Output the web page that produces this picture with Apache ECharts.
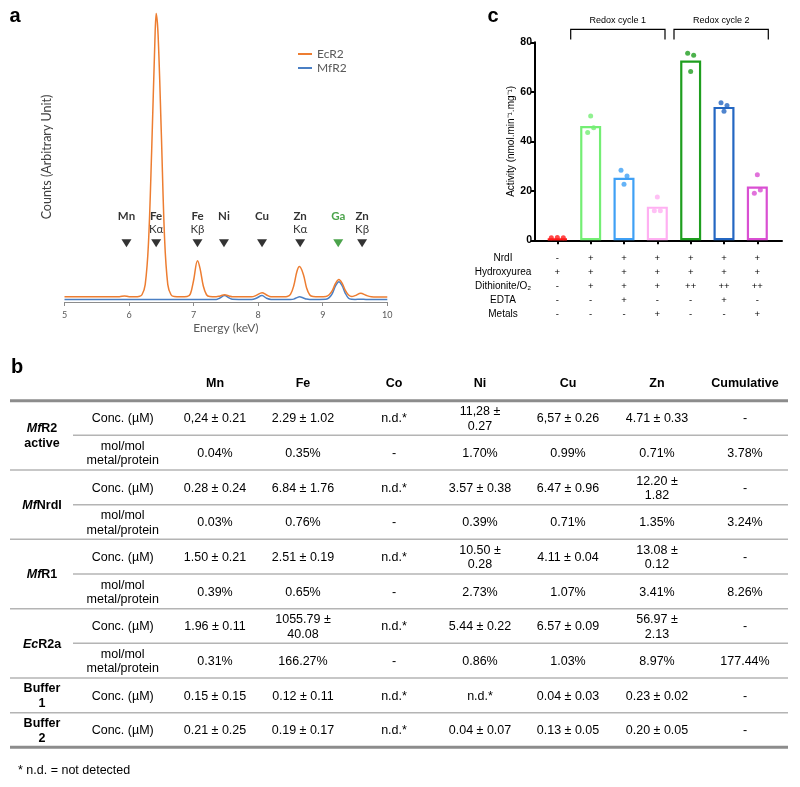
<!DOCTYPE html>
<html><head><meta charset="utf-8">
<script src="https://cdn.jsdelivr.net/npm/echarts@6/dist/echarts.min.js"></script>
<style>html,body{margin:0;padding:0;background:#fff}#chart{width:800px;height:787px}</style>
</head><body><div id="chart"></div>
<script>
// ---------- Panel a: XRF spectra ----------
const energyKeV = [5.0, 5.3, 5.6, 5.85, 5.93, 6.0, 6.1, 6.15, 6.2, 6.25, 6.3, 6.35, 6.4, 6.42, 6.45, 6.5, 6.55, 6.6, 6.65, 6.7,
  6.8, 6.9, 6.95, 7.0, 7.06, 7.1, 7.15, 7.2, 7.25, 7.35, 7.4, 7.48, 7.55, 7.6, 7.7, 7.8, 7.9, 7.97, 8.06, 8.13,
  8.2, 8.3, 8.4, 8.45, 8.5, 8.55, 8.6, 8.64, 8.7, 8.75, 8.8, 8.85, 8.95, 9.05, 9.1, 9.15, 9.2, 9.25, 9.3, 9.35,
  9.4, 9.45, 9.5, 9.59, 9.67, 9.75, 9.85, 10.0];
const ecr2Counts = [1.8, 1.8, 1.8, 1.8, 2.1, 1.8, 1.8, 1.9, 2.5, 6, 20, 52, 90, 99.5, 92, 58, 22, 6, 2.5, 1.9,
  1.8, 1.9, 2.8, 7.5, 14.2, 11.5, 5.5, 2.5, 1.9, 1.8, 2.0, 2.5, 2.1, 1.8, 1.8, 1.8, 1.8, 2.3, 3.2, 2.4,
  1.8, 1.8, 1.8, 1.9, 2.6, 5.5, 10.5, 12.2, 9.5, 4.8, 2.4, 1.9, 1.8, 1.9, 2.5, 4.0, 6.5, 7.8, 6.5, 4.0,
  2.4, 1.9, 2.2, 3.0, 2.3, 1.8, 1.7, 1.7];
const mfr2Counts = [0.9, 0.9, 0.9, 0.9, 0.9, 0.9, 0.9, 0.9, 0.9, 0.9, 0.9, 0.9, 0.9, 0.9, 0.9, 0.9, 0.9, 0.9, 0.9, 0.9,
  0.9, 0.9, 0.9, 0.9, 0.9, 0.9, 0.9, 0.9, 0.9, 0.9, 1.3, 2.2, 1.4, 0.95, 0.9, 0.9, 0.9, 1.3, 2.2, 1.3,
  0.9, 0.9, 0.9, 0.9, 0.9, 1.0, 1.5, 1.8, 1.4, 1.0, 0.9, 0.9, 0.9, 0.95, 1.5, 3.0, 5.6, 7.0, 5.6, 3.0,
  1.3, 0.95, 0.9, 0.95, 0.9, 0.9, 0.9, 0.9];
const peakEnergy = [5.96, 6.42, 7.06, 7.47, 8.06, 8.65, 9.24, 9.61];
const peakElement = ['Mn', 'Fe', 'Fe', 'Ni', 'Cu', 'Zn', 'Ga', 'Zn'];
const peakLine = ['', 'Kα', 'Kβ', '', '', 'Kα', '', 'Kβ'];

// ---------- Panel c: activity ----------
const conditionIndex = [1, 2, 3, 4, 5, 6, 7];
const activityMean = [0.7, 46.2, 25.3, 13.6, 72.6, 53.9, 21.7];
const activityReps = [[1.0, 1.1, 1.0], [43.6, 50.2, 45.5], [28.3, 22.6, 26.0], [11.9, 17.5, 11.9],
  [75.6, 68.2, 74.8], [55.6, 52.1, 54.5], [19.0, 26.5, 20.3]];
const condNrdI = ['-', '+', '+', '+', '+', '+', '+'];
const condHydroxyurea = ['+', '+', '+', '+', '+', '+', '+'];
const condDithionite = ['-', '+', '+', '+', '++', '++', '++'];
const condEDTA = ['-', '-', '+', '-', '-', '+', '-'];
const condMetals = ['-', '-', '-', '+', '-', '-', '+'];
const condNames = ['NrdI', 'Hydroxyurea', 'Dithionite/O₂', 'EDTA', 'Metals'];
const cycleNames = ['Redox cycle 1', 'Redox cycle 2'];

// ---------- Panel b: table ----------
const metalColumns = ['Mn', 'Fe', 'Co', 'Ni', 'Cu', 'Zn', 'Cumulative'];
const mfr2Conc = ['0,24 ± 0.21', '2.29 ± 1.02', 'n.d.*', '11,28 ±\n0.27', '6,57 ± 0.26', '4.71 ± 0.33', '-'];
const mfr2Mol = ['0.04%', '0.35%', '-', '1.70%', '0.99%', '0.71%', '3.78%'];
const nrdiConc = ['0.28 ± 0.24', '6.84 ± 1.76', 'n.d.*', '3.57 ± 0.38', '6.47 ± 0.96', '12.20 ±\n1.82', '-'];
const nrdiMol = ['0.03%', '0.76%', '-', '0.39%', '0.71%', '1.35%', '3.24%'];
const mfr1Conc = ['1.50 ± 0.21', '2.51 ± 0.19', 'n.d.*', '10.50 ±\n0.28', '4.11 ± 0.04', '13.08 ±\n0.12', '-'];
const mfr1Mol = ['0.39%', '0.65%', '-', '2.73%', '1.07%', '3.41%', '8.26%'];
const ecr2Conc = ['1.96 ± 0.11', '1055.79 ±\n40.08', 'n.d.*', '5.44 ± 0.22', '6.57 ± 0.09', '56.97 ±\n2.13', '-'];
const ecr2Mol = ['0.31%', '166.27%', '-', '0.86%', '1.03%', '8.97%', '177.44%'];
const buf1Conc = ['0.15 ± 0.15', '0.12 ± 0.11', 'n.d.*', 'n.d.*', '0.04 ± 0.03', '0.23 ± 0.02', '-'];
const buf2Conc = ['0.21 ± 0.25', '0.19 ± 0.17', 'n.d.*', '0.04 ± 0.07', '0.13 ± 0.05', '0.20 ± 0.05', '-'];

// ---------- styles ----------
const AR = 'Liberation Sans, Arial, sans-serif';
const CAL = 'Lato, Carlito, sans-serif';
const barColors = ['#ff1a1a', '#74ee74', '#3fa0f5', '#ffb0f2', '#1f9e1f', '#2467c2', '#d94fd2'];

// ---------- build panel b graphics ----------
const graphics = [];
const txt = (x, y, text, extra) => graphics.push(Object.assign({
  type: 'text', x: x, y: y, silent: true,
  style: Object.assign({ text: text, fill: '#000', fontSize: 12.5, fontFamily: AR,
    textAlign: 'center', textVerticalAlign: 'middle', lineHeight: 14.5 }, extra || {})
}));
const hline = (x1, x2, y, w, c) => graphics.push({ type: 'line', silent: true,
  shape: { x1: x1, y1: y, x2: x2, y2: y }, style: { stroke: c, lineWidth: w } });

const colX = [215, 303, 394, 480, 568, 657, 745];
metalColumns.forEach((m, i) => txt(colX[i], 383.5, m, { fontWeight: 'bold' }));

const blocks = [
  { label: '{i|Mf}{b|R2}\n{b|active}', rows: [mfr2Conc, mfr2Mol] },
  { label: '{i|Mf}{b|NrdI}', rows: [nrdiConc, nrdiMol] },
  { label: '{i|Mf}{b|R1}', rows: [mfr1Conc, mfr1Mol] },
  { label: '{i|Ec}{b|R2a}', rows: [ecr2Conc, ecr2Mol] },
  { label: '{b|Buffer}\n{b|1}', rows: [buf1Conc] },
  { label: '{b|Buffer}\n{b|2}', rows: [buf2Conc] }
];
const tableTop = 400.7, rowH = 34.66, tableL = 10, tableR = 788;
const richLab = { i: { fontStyle: 'italic', fontWeight: 'bold', fontSize: 12.5, fontFamily: AR, lineHeight: 15 },
  b: { fontWeight: 'bold', fontSize: 12.5, fontFamily: AR, lineHeight: 15 } };
let r = 0;
hline(tableL, tableR, tableTop, 3, '#8c8c8c');
blocks.forEach((blk, bi) => {
  const yMid = tableTop + rowH * (r + blk.rows.length / 2) + 1;
  txt(42, yMid, blk.label, { rich: richLab });
  blk.rows.forEach((vals, k) => {
    const yc = tableTop + rowH * (r + 0.5) + 1;
    txt(122.7, yc, k === 0 ? 'Conc. (µM)' : 'mol/mol\nmetal/protein');
    vals.forEach((v, ci) => txt(colX[ci], yc, v));
    r += 1;
    const yLine = tableTop + rowH * r;
    if (bi === blocks.length - 1 && k === blk.rows.length - 1) hline(tableL, tableR, yLine, 3, '#8c8c8c');
    else if (k < blk.rows.length - 1) hline(73, tableR, yLine, 1.5, '#b4b4b4');
    else hline(tableL, tableR, yLine, 1.5, '#b4b4b4');
  });
});
txt(18, 771, '* n.d. = not detected', { textAlign: 'left' });

// panel letters
txt(15, 16, 'a', { fontSize: 20, fontWeight: 'bold' });
txt(17, 367, 'b', { fontSize: 20, fontWeight: 'bold' });
txt(493, 16, 'c', { fontSize: 20, fontWeight: 'bold' });

// panel c: condition row names & redox brackets
txt(503, 258, condNames.join('\n'), { fontSize: 10, lineHeight: 14, textVerticalAlign: 'top', y: -7 });
const brackets = [[570.7, 665], [674, 768.3]];
brackets.forEach((b, i) => {
  graphics.push({ type: 'polyline', silent: true,
    shape: { points: [[b[0], 39.5], [b[0], 29.3], [b[1], 29.3], [b[1], 39.5]] },
    style: { stroke: '#000', lineWidth: 1.2, fill: null } });
  txt((b[0] + b[1]) / 2, 21, cycleNames[i], { fontSize: 9 });
});

// ---------- chart ----------
const chart = echarts.init(document.getElementById('chart'));
const dotData = [];
activityReps.forEach((reps, i) => {
  const spread = i === 0 ? 0.18 : 0.09;
  reps.forEach((v, j) => dotData.push({ value: [conditionIndex[i] + (j - 1) * spread, v], itemStyle: { color: barColors[i] } }));
});

chart.setOption({
  animation: false,
  backgroundColor: '#fff',
  grid: [
    { left: 64.5, width: 322.8, top: 12, height: 290 },
    { left: 535, width: 247, top: 42.3, height: 198 }
  ],
  legend: {
    data: ['EcR2', 'MfR2'], orient: 'vertical', left: 293, top: 43, itemWidth: 14, itemHeight: 2, itemGap: 2,
    icon: 'rect', textStyle: { fontFamily: CAL, fontSize: 12, color: '#595959' }
  },
  xAxis: [
    { gridIndex: 0, type: 'value', min: 5, max: 10, interval: 1,
      axisLine: { lineStyle: { color: '#8c8c8c', width: 1 } },
      axisTick: { show: true, length: 4, lineStyle: { color: '#8c8c8c' } },
      axisLabel: { fontFamily: CAL, fontSize: 9, color: '#595959', margin: 9 },
      splitLine: { show: false },
      name: 'Energy (keV)', nameLocation: 'middle', nameGap: 20,
      nameTextStyle: { fontFamily: CAL, fontSize: 12, color: '#595959' } },
    { gridIndex: 1, type: 'value', min: 0.33, max: 7.74,
      axisLine: { lineStyle: { color: '#000', width: 2 } },
      axisTick: { show: true, customValues: conditionIndex, length: 4, lineStyle: { color: '#000', width: 2 } },
      axisLabel: { customValues: conditionIndex, margin: 11, fontFamily: AR, fontSize: 9.5, color: '#000', lineHeight: 14,
        formatter: v => { const k = Math.round(v) - 1;
          return [condNrdI[k], condHydroxyurea[k], condDithionite[k], condEDTA[k], condMetals[k]].join('\n'); } },
      splitLine: { show: false } }
  ],
  yAxis: [
    { gridIndex: 0, type: 'value', min: 0, max: 100,
      axisLine: { show: false }, axisTick: { show: false }, axisLabel: { show: false }, splitLine: { show: false },
      name: 'Counts (Arbitrary Unit)', nameLocation: 'middle', nameGap: 11,
      nameTextStyle: { fontFamily: CAL, fontSize: 12.5, color: '#404040' } },
    { gridIndex: 1, type: 'value', min: 0, max: 80, interval: 20,
      axisLine: { show: true, lineStyle: { color: '#000', width: 2 } },
      axisTick: { show: true, length: 4, lineStyle: { color: '#000', width: 2 } },
      axisLabel: { fontFamily: AR, fontWeight: 'bold', fontSize: 10.5, color: '#000', margin: 3 },
      splitLine: { show: false },
      name: 'Activity (nmol.min⁻¹.mg⁻¹)', nameLocation: 'middle', nameGap: 19,
      nameTextStyle: { fontFamily: AR, fontSize: 10, color: '#000' } }
  ],
  series: [
    { name: 'MfR2', type: 'line', xAxisIndex: 0, yAxisIndex: 0, showSymbol: false, smooth: 0.35,
      data: energyKeV.map((e, i) => [e, mfr2Counts[i]]), lineStyle: { color: '#4a7fc4', width: 1.5 },
      itemStyle: { color: '#4a7fc4' } },
    { name: 'EcR2', type: 'line', xAxisIndex: 0, yAxisIndex: 0, showSymbol: false, smooth: 0.35,
      data: energyKeV.map((e, i) => [e, ecr2Counts[i]]), lineStyle: { color: '#ed7d31', width: 1.5 },
      itemStyle: { color: '#ed7d31' } },
    { type: 'scatter', xAxisIndex: 0, yAxisIndex: 0, symbol: 'triangle', symbolRotate: 180, symbolSize: [10, 8],
      data: peakEnergy.map((e, i) => ({ value: [e, 20.3],
        itemStyle: { color: peakElement[i] === 'Ga' ? '#1e8c1e' : '#000' } })),
      label: { show: true, position: 'top', distance: 3,
        formatter: p => { const i = p.dataIndex; const k = peakElement[i] === 'Ga' ? 'g' : 'b';
          return '{' + k + '|' + peakElement[i] + '}\n{n|' + (peakLine[i] || ' ') + '}'; },
        rich: { b: { fontFamily: CAL, fontWeight: 'bold', fontSize: 11.5, color: '#000', lineHeight: 13.5 },
          g: { fontFamily: CAL, fontWeight: 'bold', fontSize: 11.5, color: '#1e8c1e', lineHeight: 13.5 },
          n: { fontFamily: CAL, fontSize: 11.5, color: '#000', lineHeight: 13.5 } } } },
    { type: 'bar', xAxisIndex: 1, yAxisIndex: 1, barWidth: 21,
      data: activityMean.map((v, i) => ({ value: [conditionIndex[i], v],
        itemStyle: { color: 'rgba(255,255,255,0)', borderColor: barColors[i], borderWidth: 2.2 } })) },
    { type: 'scatter', xAxisIndex: 1, yAxisIndex: 1, symbolSize: 5, data: dotData, z: 5 }
  ],
  graphic: graphics
});
</script></body></html>
